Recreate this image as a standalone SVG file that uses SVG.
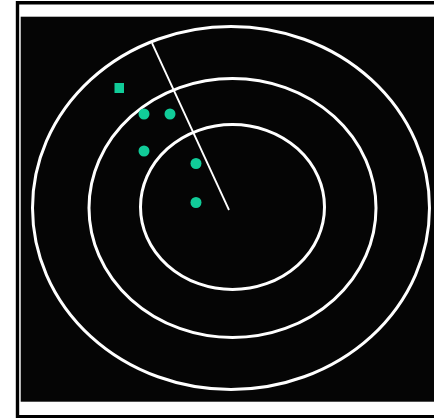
<svg xmlns="http://www.w3.org/2000/svg" width="434" height="418" viewBox="0 0 434 418">
  <style>
    .ring { fill: none; stroke: #ffffff; stroke-width: 3; }
    .sweep { stroke: #ffffff; stroke-width: 1.8; fill: none; }
    .blip { fill: #11cc99; }
  </style>
  <rect x="0" y="0" width="434" height="418" fill="#ffffff"/>
  <path d="M434 2.8 H17.5 V416.6 H434" fill="none" stroke="#000000" stroke-width="3.4"/>
  <rect x="20.7" y="16.7" width="413.3" height="385" fill="#050505"/>
  <g id="rings">
    <ellipse id="ring-outer" class="ring" cx="231" cy="208" rx="198.5" ry="181.5"/>
    <ellipse id="ring-middle" class="ring" cx="232.5" cy="208" rx="143.5" ry="129.5"/>
    <ellipse id="ring-inner" class="ring" cx="232.5" cy="207" rx="92" ry="82.5"/>
  </g>
  <g id="connectors">
    <line class="sweep" x1="152" y1="43" x2="229" y2="210"/>
  </g>
  <g id="blip-square"><rect class="blip" x="114.5" y="83" width="9.5" height="10"/></g>
  <g id="blip-1"><circle class="blip" cx="144" cy="114" r="5.5"/></g>
  <g id="blip-2"><circle class="blip" cx="170" cy="114" r="5.5"/></g>
  <g id="blip-3"><circle class="blip" cx="144" cy="151" r="5.5"/></g>
  <g id="blip-4"><circle class="blip" cx="196" cy="163.5" r="5.5"/></g>
  <g id="blip-5"><circle class="blip" cx="196" cy="202.5" r="5.5"/></g>
</svg>
